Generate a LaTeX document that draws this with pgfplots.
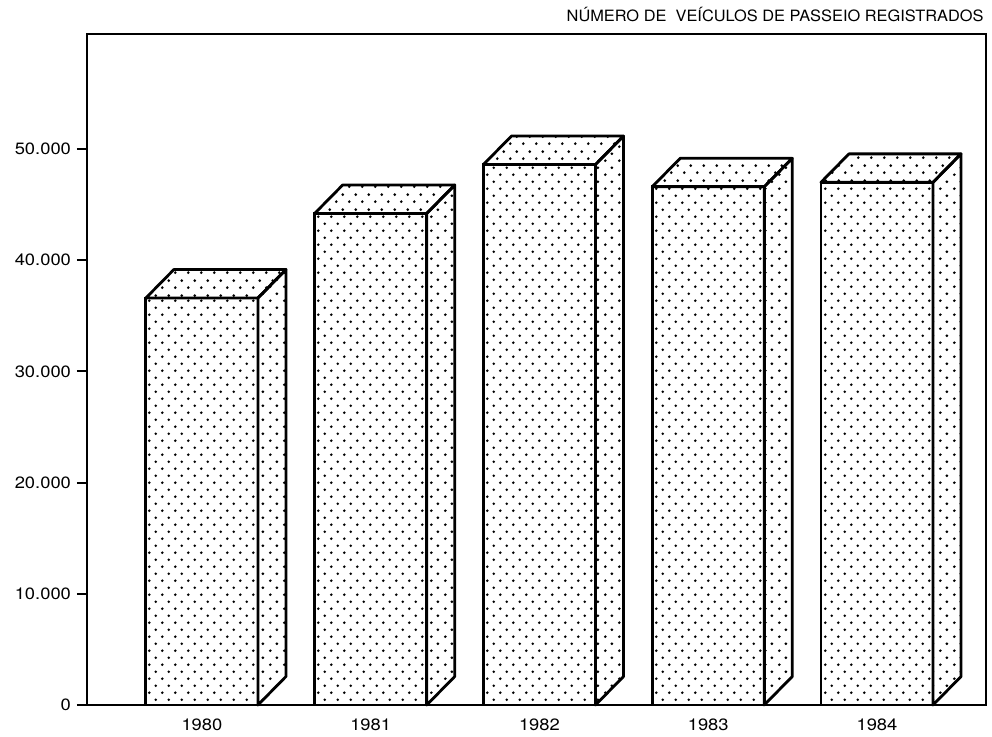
\documentclass[border=0pt]{standalone}
\usepackage{fontspec}
\setmainfont[FakeStretch=1.12]{TeX Gyre Heros}
\newfontfamily\titlefont[FakeStretch=1.05]{TeX Gyre Heros}
\usepackage{pgfplots}
\pgfplotsset{compat=1.18}
\usepackage{pgfplotstable}
\usetikzlibrary{patterns}
\pgfdeclarepatternformonly{sdots}{\pgfqpoint{0pt}{0pt}}{\pgfqpoint{6.7pt}{7.2pt}}{\pgfqpoint{6.7pt}{7.2pt}}{%
 \pgfpathcircle{\pgfqpoint{1.2pt}{1.2pt}}{0.75pt}%
 \pgfpathcircle{\pgfqpoint{4.55pt}{4.8pt}}{0.75pt}%
 \pgfusepath{fill}}

\pgfplotstableread{
x y
0 36600
1 44200
2 48600
3 46600
4 47000
}\data

\begin{document}
\begin{tikzpicture}
\begin{axis}[
 scale only axis, width=449.5pt, height=335.5pt,
 xmin=-0.681, xmax=4.646, ymin=0, ymax=60340,
 axis line style={line width=1.1pt},
 xtick={0,1,2,3,4}, xticklabels={1980,1981,1982,1983,1984},
 xtick pos=bottom, ytick pos=left,
 x tick style={draw=none},
 ytick={0,10000,20000,30000,40000,50000},
 tick align=outside, major tick length=5pt,
 y tick style={line width=1pt, black},
 scaled y ticks=false,
 /pgf/number format/1000 sep={.},
 /pgf/number format/assume math mode=true,
 tick label style={font=\fontsize{8.2}{9.5}\selectfont},
 xticklabel style={yshift=1.5pt},
 yticklabel style={xshift=0.5pt},
 clip=false,
]
\addplot[ybar, bar width=0.664, draw=black, line width=1.4pt, pattern=sdots] table {\data};
% top faces
\addplot[draw=black, line width=1.4pt, line join=round, pattern=sdots] coordinates {(-0.332,36600) (0.332,36600) (0.498,39160) (-0.166,39160)} --cycle;
\addplot[draw=black, line width=1.4pt, line join=round, pattern=sdots] coordinates {(0.668,44200) (1.332,44200) (1.498,46760) (0.834,46760)} --cycle;
\addplot[draw=black, line width=1.4pt, line join=round, pattern=sdots] coordinates {(1.668,48600) (2.332,48600) (2.498,51160) (1.834,51160)} --cycle;
\addplot[draw=black, line width=1.4pt, line join=round, pattern=sdots] coordinates {(2.668,46600) (3.332,46600) (3.498,49160) (2.834,49160)} --cycle;
\addplot[draw=black, line width=1.4pt, line join=round, pattern=sdots] coordinates {(3.668,47000) (4.332,47000) (4.498,49560) (3.834,49560)} --cycle;
% side faces
\addplot[draw=black, line width=1.4pt, line join=round, pattern=sdots] coordinates {(0.332,0) (0.498,2560) (0.498,39160) (0.332,36600)} --cycle;
\addplot[draw=black, line width=1.4pt, line join=round, pattern=sdots] coordinates {(1.332,0) (1.498,2560) (1.498,46760) (1.332,44200)} --cycle;
\addplot[draw=black, line width=1.4pt, line join=round, pattern=sdots] coordinates {(2.332,0) (2.498,2560) (2.498,51160) (2.332,48600)} --cycle;
\addplot[draw=black, line width=1.4pt, line join=round, pattern=sdots] coordinates {(3.332,0) (3.498,2560) (3.498,49160) (3.332,46600)} --cycle;
\addplot[draw=black, line width=1.4pt, line join=round, pattern=sdots] coordinates {(4.332,0) (4.498,2560) (4.498,49560) (4.332,47000)} --cycle;
\node[anchor=south east, font=\titlefont\fontsize{7.8}{9}\selectfont, inner sep=0pt] at (rel axis cs:1,1) [yshift=6pt, xshift=-1pt] {NÚMERO DE\ \ VEÍCULOS DE PASSEIO REGISTRADOS};
\coordinate (ll) at (rel axis cs:0,0);
\coordinate (ur) at (rel axis cs:1,1);
\end{axis}
\pgfresetboundingbox
\path ([shift={(-43.5pt,-16pt)}]ll) rectangle ([shift={(3pt,17pt)}]ur);
\end{tikzpicture}
\end{document}
